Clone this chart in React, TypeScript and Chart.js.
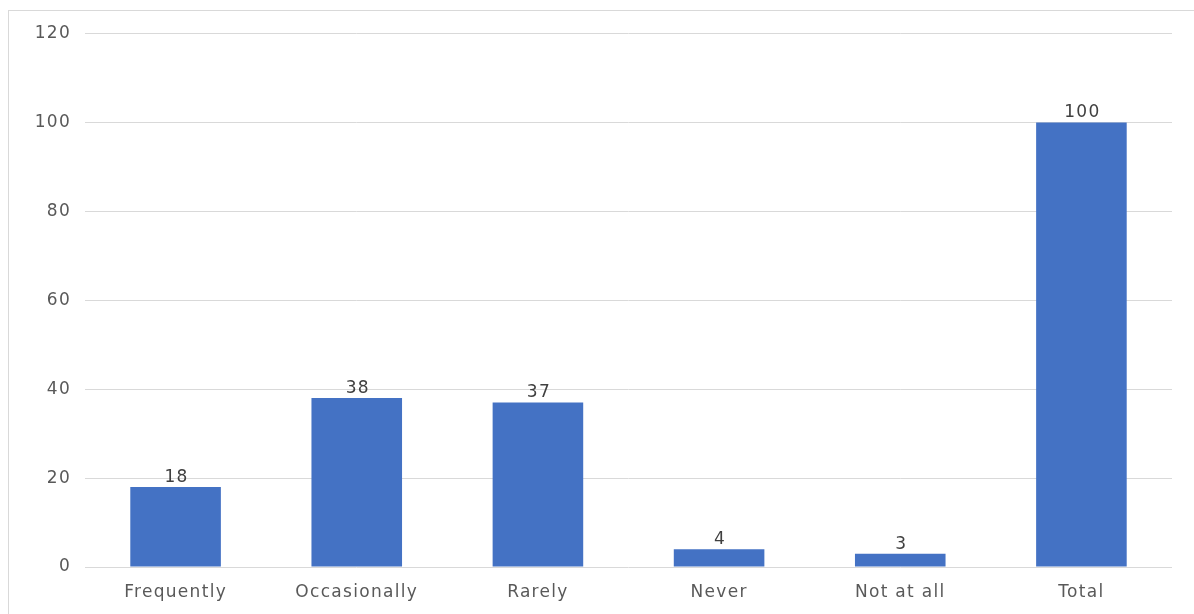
import React, { useEffect, useRef } from "react";
import { Chart, registerables } from "chart.js";

Chart.register(...registerables);

const categories = ["Frequently", "Occasionally", "Rarely", "Never", "Not at all", "Total"];
const counts = [18, 38, 37, 4, 3, 100];
const yTicks = [0, 20, 40, 60, 80, 100, 120];

const FONT = "'DejaVu Sans', 'Open Sans', sans-serif";
const FONT_SIZE = 17;
const SPACING = "1.3px";

// widen the glyph spacing for all chart text
const spacingPlugin = {
  id: "spacing",
  beforeUpdate(chart: any) {
    chart.ctx.letterSpacing = SPACING;
  },
  beforeDraw(chart: any) {
    chart.ctx.letterSpacing = SPACING;
  },
};

// value labels above every bar
const valueLabels = {
  id: "valueLabels",
  afterDatasetsDraw(chart: any) {
    const ctx = chart.ctx;
    const meta = chart.getDatasetMeta(0);
    ctx.save();
    ctx.letterSpacing = SPACING;
    ctx.font = `${FONT_SIZE}px ${FONT}`;
    ctx.fillStyle = "#404040";
    ctx.textAlign = "center";
    ctx.textBaseline = "bottom";
    meta.data.forEach((bar: any, i: number) => {
      ctx.fillText(String(counts[i]), bar.x + 1, bar.y - 1);
    });
    ctx.restore();
  },
};

export default function App() {
  const ref = useRef<HTMLCanvasElement>(null);

  useEffect(() => {
    const chart = new Chart(ref.current!, {
      type: "bar",
      data: {
        labels: categories,
        datasets: [
          {
            data: counts,
            backgroundColor: "#4472C4",
            barPercentage: 0.5,
            categoryPercentage: 1,
          },
        ],
      },
      options: {
        animation: false,
        responsive: false,
        layout: { padding: { top: 21, right: 22, left: 0, bottom: 0 } },
        plugins: { legend: { display: false }, tooltip: { enabled: false } },
        scales: {
          x: {
            grid: { display: false },
            border: { display: false },
            ticks: {
              color: "#595959",
              font: { family: FONT, size: FONT_SIZE },
              padding: 7,
              maxRotation: 0,
            },
            afterFit(scale: any) {
              scale.height = 47;
            },
          },
          y: {
            min: 0,
            max: 120,
            afterBuildTicks(scale: any) {
              scale.ticks = yTicks.map((v) => ({ value: v }));
            },
            grid: { color: "#d9d9d9", lineWidth: 1, drawTicks: false },
            border: { display: false },
            ticks: {
              color: "#595959",
              font: { family: FONT, size: FONT_SIZE, lineHeight: 1 },
              padding: 14,
            },
            afterFit(scale: any) {
              scale.width = 76;
            },
          },
        },
      },
      plugins: [spacingPlugin, valueLabels],
    });
    return () => chart.destroy();
  }, []);

  return (
    <div
      style={{
        position: "absolute",
        left: 8,
        top: 10,
        width: 1186,
        height: 604,
        borderTop: "1px solid #d9d9d9",
        borderLeft: "1px solid #d9d9d9",
        boxSizing: "border-box",
        background: "#fff",
      }}
    >
      <canvas ref={ref} width={1185} height={603} style={{ display: "block" }} />
    </div>
  );
}
